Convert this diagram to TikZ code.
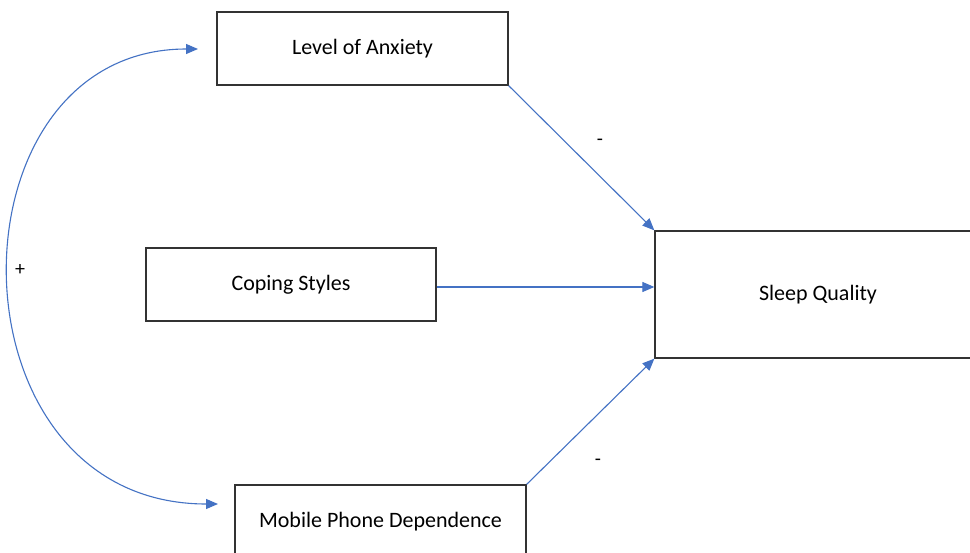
\documentclass[tikz,border=0pt]{standalone}
\usepackage{fontspec}
\setmainfont{Carlito}
\usetikzlibrary{arrows.meta}
\definecolor{arrblue}{HTML}{4472C4}
\begin{document}
\begin{tikzpicture}[x=1pt,y=-1pt,
  box/.style={draw=black!80,line width=1.3pt,inner sep=0pt,font=\fontsize{22}{26}\selectfont},
  conn/.style={draw=arrblue,line width=1.1pt,-{Triangle[length=12pt,width=10pt]}},
  sign/.style={font=\fontsize{20}{24}\selectfont,inner sep=0pt}]
\useasboundingbox (0,0) rectangle (970,553);
\clip (0,0) rectangle (970,553);
\fill[white] (0,0) rectangle (970,553);
\node[box,minimum width=291pt,minimum height=73pt] (anx) at (362.5,48.5) {Level of Anxiety};
\node[box,minimum width=290pt,minimum height=73pt] (cop) at (291,284.5) {Coping Styles};
\node[box,minimum width=326pt,minimum height=127pt] (sq) at (818,294.5) {Sleep Quality};
\node[box,minimum width=291pt,minimum height=73pt] (mob) at (380.5,521.5) {Mobile Phone Dependence};
\draw[conn] (anx.south east) -- (sq.north west);
\coordinate (cs) at ([yshift=-2.5pt]cop.east);
\draw[conn] (cs) -- (cs -| sq.west);
\draw[conn] (mob.north east) -- (sq.south west);
\coordinate (ctop) at (198,49);
\coordinate (cbot) at (218,504);
\draw[conn,{Triangle[length=12pt,width=10pt]}-{Triangle[length=12pt,width=10pt]}] (cbot) .. controls (-57,504) and (-57,49) .. (ctop);
\node[sign] (m1) at (600,142) {-};
\node[sign] (m2) at (598,462) {-};
\node[sign] (p1) at (20,270) {+};
\end{tikzpicture}
\end{document}
